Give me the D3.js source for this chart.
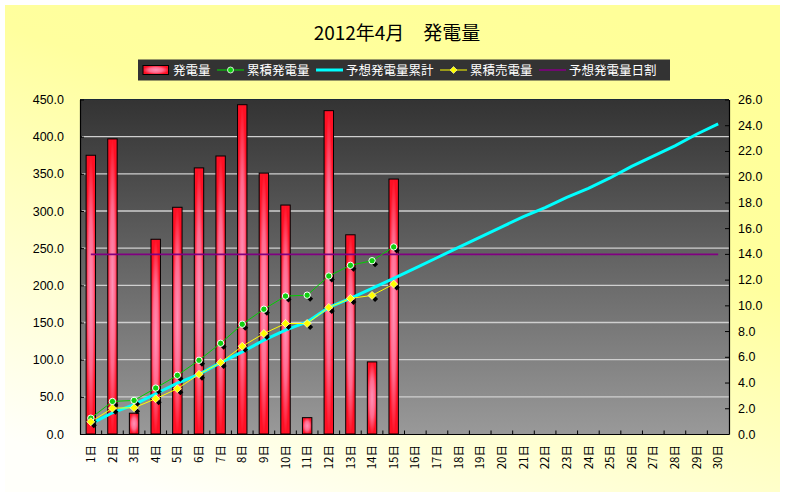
<!DOCTYPE html>
<html><head><meta charset="utf-8">
<script src="https://cdn.jsdelivr.net/npm/d3@7"></script>
<style>body{margin:0;background:#fff}svg{display:block}</style>
</head><body><svg id="c" width="796" height="498"></svg>
<script>
// ---------- data ----------
const days = ["1日","2日","3日","4日","5日","6日","7日","8日","9日","10日","11日","12日","13日","14日","15日",
  "16日","17日","18日","19日","20日","21日","22日","23日","24日","25日","26日","27日","28日","29日","30日"];
const dailyGeneration = [375, 397, 28, 262, 305, 358, 374, 443, 351, 308, 22, 435, 268, 97, 343];
const cumulativeGeneration = [1.23, 2.53, 2.61, 3.57, 4.56, 5.73, 7.05, 8.53, 9.70, 10.72, 10.79, 12.28, 13.11, 13.47, 14.54];
const forecastCumulative = [0.79, 1.65, 2.28, 3.13, 3.96, 4.64, 5.55, 6.38, 7.29, 8.07, 8.71, 9.84, 10.54, 11.32, 12.1,
  12.9, 13.7, 14.5, 15.3, 16.1, 16.9, 17.6, 18.4, 19.1, 19.9, 20.8, 21.6, 22.4, 23.3, 24.1];
const cumulativeSold = [0.95, 2.01, 2.04, 2.74, 3.52, 4.64, 5.55, 6.82, 7.81, 8.59, 8.59, 9.84, 10.54, 10.77, 11.65];
const forecastDaily = [241.7, 241.7, 241.7, 241.7, 241.7, 241.7, 241.7, 241.7, 241.7, 241.7,
  241.7, 241.7, 241.7, 241.7, 241.7, 241.7, 241.7, 241.7, 241.7, 241.7,
  241.7, 241.7, 241.7, 241.7, 241.7, 241.7, 241.7, 241.7, 241.7, 241.7];
const leftTicks = [0, 50, 100, 150, 200, 250, 300, 350, 400, 450];
const rightTicks = [0, 2, 4, 6, 8, 10, 12, 14, 16, 18, 20, 22, 24, 26];
const legendLabels = ["発電量", "累積発電量", "予想発電量累計", "累積売電量", "予想発電量日割"];
const title = "2012年4月　発電量";

// ---------- setup ----------
const svg = d3.select("#c");
const defs = svg.append("defs");
const FONT = "'Noto Sans CJK JP', 'Noto Sans', sans-serif";
const NUMFONT = "'Liberation Sans', Arial, sans-serif";

const bg = defs.append("linearGradient").attr("id","bg").attr("x1","0.75").attr("y1","0").attr("x2","0.2").attr("y2","1");
bg.append("stop").attr("offset","0").attr("stop-color","#FFFF99");
bg.append("stop").attr("offset","0.35").attr("stop-color","#FFFF9E");
bg.append("stop").attr("offset","1").attr("stop-color","#FFFFFA");

const pg = defs.append("linearGradient").attr("id","pg").attr("x1","0").attr("y1","0").attr("x2","0").attr("y2","1");
pg.append("stop").attr("offset","0").attr("stop-color","#333333");
pg.append("stop").attr("offset","1").attr("stop-color","#999999");

const bar = defs.append("radialGradient").attr("id","barg").attr("cx","0.5").attr("cy","0.5").attr("r","0.5");
bar.append("stop").attr("offset","0").attr("stop-color","#FF92B8");
bar.append("stop").attr("offset","0.55").attr("stop-color","#FF6A8E");
bar.append("stop").attr("offset","1").attr("stop-color","#FF1024");

svg.append("rect").attr("x",5).attr("y",5).attr("width",775).attr("height",487).attr("fill","url(#bg)");

svg.append("text").attr("x",397).attr("y",40).attr("text-anchor","middle")
  .attr("font-family",FONT).attr("font-size",19).attr("fill","#000").text(title);

// ---------- scales ----------
const P = {l:80, r:729, t:99.5, b:434};
const x = d3.scaleBand().domain(days).range([P.l, P.r]).padding(0);
const cx = d => x(d) + x.bandwidth()/2;
const yL = d3.scaleLinear().domain([0,450]).range([P.b, P.t]);
const yR = d3.scaleLinear().domain([0,26]).range([P.b, P.t]);

// plot area
svg.append("rect").attr("x",P.l).attr("y",P.t).attr("width",P.r-P.l).attr("height",P.b-P.t).attr("fill","url(#pg)");
svg.append("line").attr("x1",P.l).attr("x2",P.r).attr("y1",P.t).attr("y2",P.t).attr("stroke","#1c2a38").attr("stroke-width",1);

// gridlines
svg.append("g").selectAll("line").data(leftTicks.filter(t => t>0 && t<450)).join("line")
  .attr("x1",P.l+2).attr("x2",P.r).attr("y1",d=>yL(d)).attr("y2",d=>yL(d))
  .attr("stroke","#CFCFCF").attr("stroke-width",1.3);

// axes
const axL = svg.append("g").attr("transform",`translate(${P.l},0)`)
  .call(d3.axisLeft(yL).tickValues(leftTicks).tickFormat(d3.format(".1f")).tickSizeInner(-4).tickSizeOuter(0).tickPadding(16));
const axR = svg.append("g").attr("transform",`translate(${P.r},0)`)
  .call(d3.axisRight(yR).tickValues(rightTicks).tickFormat(d3.format(".1f")).tickSizeInner(-4).tickSizeOuter(0).tickPadding(9));
const axB = svg.append("g").attr("transform",`translate(0,${P.b})`)
  .call(d3.axisBottom(x).tickSize(0).tickPadding(0));
[axL, axR].forEach(g => {
  g.select(".domain").attr("stroke","#000").attr("stroke-width",1.2);
  g.selectAll(".tick line").attr("stroke","#000");
  g.selectAll("text").attr("font-family",NUMFONT).attr("font-size",12.5).attr("fill","#000");
});
axB.select(".domain").attr("stroke","#000").attr("stroke-width",1.2);
axB.selectAll("text").attr("font-family",FONT).attr("font-size",11.5).attr("fill","#000")
  .attr("transform","rotate(-90)").attr("text-anchor","end").attr("x",-11).attr("y",0).attr("dy","0.36em");
// category boundary ticks
svg.append("g").selectAll("line").data(days.slice(1)).join("line")
  .attr("x1",d=>x(d)).attr("x2",d=>x(d)).attr("y1",P.b).attr("y2",P.b-3.5)
  .attr("stroke","#000").attr("stroke-width",1);

// ---------- bars ----------
const bw = x.bandwidth()*0.435;
svg.append("g").selectAll("rect").data(dailyGeneration).join("rect")
  .attr("x",(v,i)=>cx(days[i])-bw/2).attr("y",v=>yL(v))
  .attr("width",bw).attr("height",v=>yL(0)-yL(v))
  .attr("fill","url(#barg)").attr("stroke","#000").attr("stroke-width",1);

// ---------- lines ----------
const lineL = d3.line().x((v,i)=>cx(days[i])).y(v=>yL(v));
const lineR = d3.line().x((v,i)=>cx(days[i])).y(v=>yR(v));

svg.append("path").datum(forecastDaily).attr("d",lineL).attr("fill","none").attr("stroke","#800080").attr("stroke-width",1.6);
svg.append("path").datum(forecastCumulative).attr("d",lineR).attr("fill","none").attr("stroke","#00FFFF").attr("stroke-width",3);
svg.append("path").datum(cumulativeGeneration).attr("d",lineR).attr("fill","none").attr("stroke","#00D000").attr("stroke-width",1);
svg.append("path").datum(cumulativeSold).attr("d",lineR).attr("fill","none").attr("stroke","#FFFF00").attr("stroke-width",1);

const shadow = "M0,-3L3,0L0,3L-3,0Z";
function markers(data, kind, fill){
  const g = svg.append("g");
  g.selectAll(".s").data(data).join("path").attr("class","s")
    .attr("transform",(v,i)=>`translate(${cx(days[i])+3},${yR(v)+3.5})`).attr("d",shadow).attr("fill","#000");
  if(kind==="circle"){
    g.selectAll(".m").data(data).join("circle").attr("class","m")
      .attr("cx",(v,i)=>cx(days[i])).attr("cy",v=>yR(v)).attr("r",3.2)
      .attr("fill",fill).attr("stroke","#fff").attr("stroke-width",1);
  } else {
    g.selectAll(".m").data(data).join("path").attr("class","m")
      .attr("transform",(v,i)=>`translate(${cx(days[i])},${yR(v)})`).attr("d","M0,-4L4,0L0,4L-4,0Z")
      .attr("fill",fill).attr("stroke","#FFFFC0").attr("stroke-width",0.8);
  }
}
markers(cumulativeGeneration, "circle", "#10D010");
markers(cumulativeSold, "diamond", "#FFFF00");

// ---------- legend ----------
const lg = svg.append("g");
lg.append("rect").attr("x",138).attr("y",59.5).attr("width",532).attr("height",21).attr("fill","#333333");
const ly = 70;
let lx = 143;
const styles = [
  {type:"bar"},
  {type:"line", color:"#00E000", w:1, marker:"circle", mfill:"#10D010"},
  {type:"line", color:"#00FFFF", w:3},
  {type:"line", color:"#FFFF00", w:1, marker:"diamond", mfill:"#FFFF00"},
  {type:"line", color:"#800080", w:1.6}
];
legendLabels.forEach((lab,i)=>{
  const s = styles[i];
  if(s.type==="bar"){
    lg.append("rect").attr("x",lx).attr("y",ly-4.5).attr("width",25.5).attr("height",9)
      .attr("fill","url(#barg)").attr("stroke","#000").attr("stroke-width",1);
  } else {
    lg.append("line").attr("x1",lx).attr("x2",lx+27).attr("y1",ly).attr("y2",ly)
      .attr("stroke",s.color).attr("stroke-width",s.w);
    if(s.marker==="circle") lg.append("circle").attr("cx",lx+13.5).attr("cy",ly).attr("r",3).attr("fill",s.mfill).attr("stroke","#fff").attr("stroke-width",0.8);
    if(s.marker==="diamond") lg.append("path").attr("transform",`translate(${lx+13.5},${ly})`).attr("d","M0,-3.5L3.5,0L0,3.5L-3.5,0Z").attr("fill",s.mfill).attr("stroke","#FFFFC0").attr("stroke-width",0.6);
  }
  const t = lg.append("text").attr("x",lx+30).attr("y",ly).attr("dy","0.36em")
    .attr("font-family",FONT).attr("font-size",12.5).attr("fill","#fff").text(lab);
  lx = lx + 30 + t.node().getComputedTextLength() + 6.5;
});
</script></body></html>
